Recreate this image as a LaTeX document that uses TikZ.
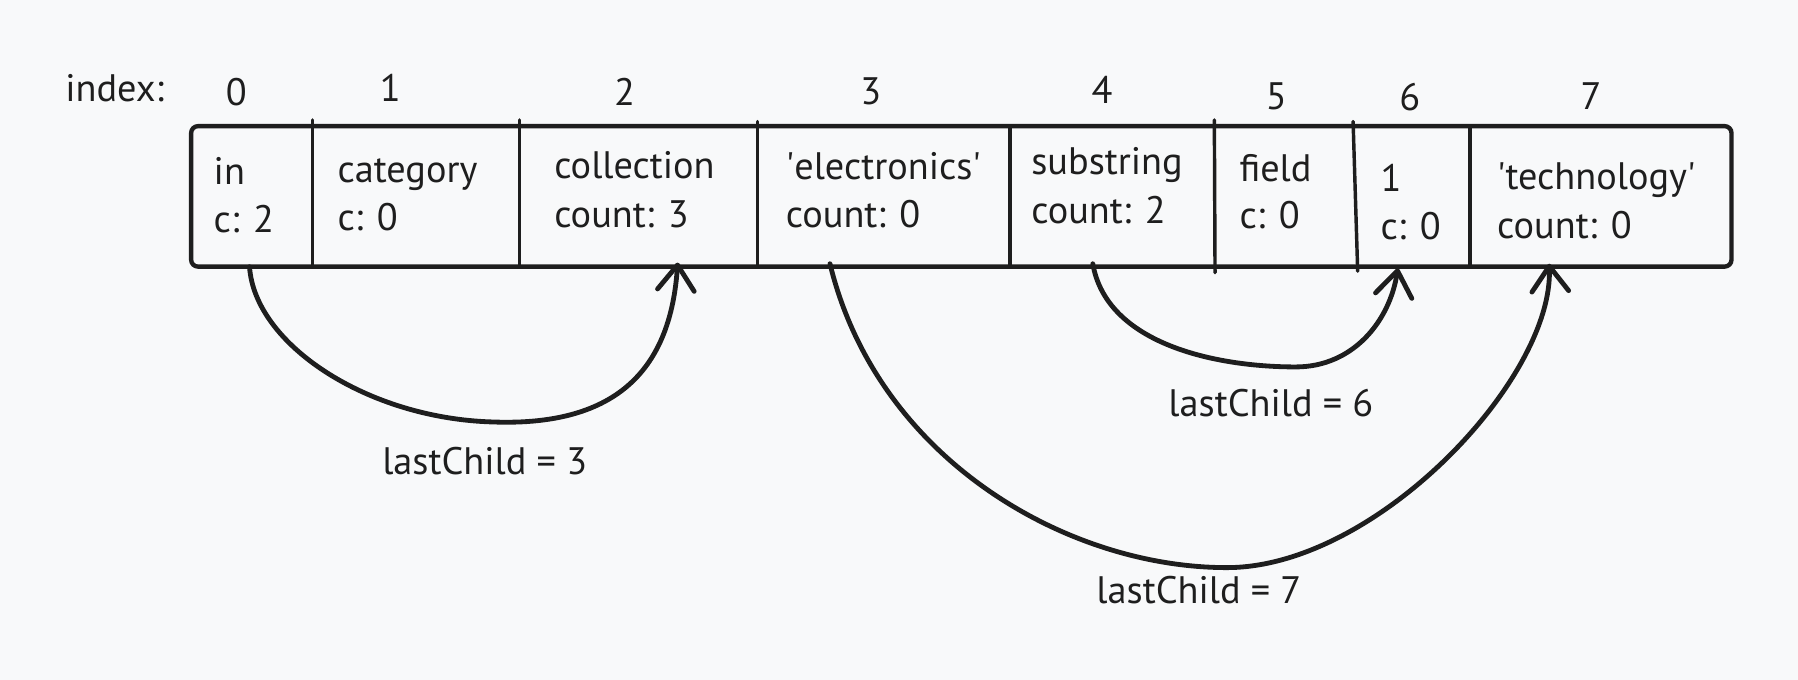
\documentclass[tikz,border=0pt]{standalone}
\usepackage{fontspec}
\setmainfont{PT Sans}
\usetikzlibrary{arrows.meta}
\definecolor{ink}{HTML}{1E1E1E}
\definecolor{bgc}{HTML}{F8F9FA}
\newcommand{\myq}{\textquotesingle}
\tikzset{
  txt/.style={inner sep=0pt, anchor=base west, text=ink, font=\fontsize{16.7}{20}\selectfont},
  idx/.style={inner sep=0pt, anchor=base, text=ink, font=\fontsize{16.7}{20}\selectfont},
  divider/.style={draw=ink, line width=1.5pt, line cap=round},
  link/.style={draw=ink, line width=2.1pt, line cap=round, line join=round,
    -{Straight Barb[length=11pt,width=16pt,round]}},
}
\begin{document}
\begin{tikzpicture}[x=0.5pt,y=-0.5pt]
\fill[bgc] (0,0) rectangle (1568,593);
\useasboundingbox (0,0) rectangle (1568,593);
% array box
\node[draw=ink, line width=1.9pt, rounded corners=3pt, minimum width=671.65pt, minimum height=61.25pt, inner sep=0pt] (box) at (838.35,171.25) {};
% dividers
\coordinate (d1t) at (272.3,104.6); \coordinate (d1b) at (272.3,232.5);
\coordinate (d2t) at (453,104.6);   \coordinate (d2b) at (453,232.5);
\coordinate (d3t) at (660.8,106);   \coordinate (d3b) at (660.8,232.5);
\coordinate (d4t) at (880.8,110);   \coordinate (d4b) at (880.8,232.5);
\coordinate (d5t) at (1059,104.6);  \coordinate (d5b) at (1059.6,237.8);
\coordinate (d6t) at (1180,106);    \coordinate (d6b) at (1184,236.5);
\coordinate (d7t) at (1281.9,110);  \coordinate (d7b) at (1281.9,232.5);
\foreach \i in {1,...,7} {\draw[divider] (d\i t) -- (d\i b);}
% index labels
\node[txt] (ilab) at (56.6,88.7) {index:};
\node[idx] (i0) at (206,91.6) {0};
\node[idx] (i1) at (340.3,88.7) {1};
\node[idx] (i2) at (544.7,91.6) {2};
\node[idx] (i3) at (759.4,91) {3};
\node[idx] (i4) at (961,90) {4};
\node[idx] (i5) at (1113,95.4) {5};
\node[idx] (i6) at (1229.4,96.8) {6};
\node[idx] (i7) at (1387.6,95.4) {7};
% cell texts
\node[txt] (c0a) at (186,161) {in};
\node[txt] (c0b) at (186,203) {c: 2};
\node[txt] (c1a) at (294,159) {category};
\node[txt] (c1b) at (294,200.6) {c: 0};
\node[txt] (c2a) at (483,156) {collection};
\node[txt] (c2b) at (483,198) {count: 3};
\node[txt] (c3a) at (685,156.5) {\myq electronics\myq};
\node[txt] (c3b) at (685,198) {count: 0};
\node[txt] (c4a) at (899,152.6) {substring};
\node[txt] (c4b) at (899,194.6) {count: 2};
\node[txt] (c5a) at (1080.6,158) {field};
\node[txt] (c5b) at (1080.6,199.7) {c: 0};
\node[txt] (c6a) at (1203.5,167) {1};
\node[txt] (c6b) at (1203.5,208.6) {c: 0};
\node[txt] (c7a) at (1305.3,165) {\myq technology\myq};
\node[txt] (c7b) at (1305.3,207.6) {count: 0};
% link endpoints
\coordinate (s0) at (217.6,232.6);
\coordinate (e2) at (591,229);
\coordinate (s3) at (723.8,230);
\coordinate (e7) at (1351,230);
\coordinate (s4) at (953,230);
\coordinate (e6) at (1219,234);
% links
\draw[link] (s0) .. controls (222,300) and (320,365) .. (430,368)
             .. controls (540,372) and (585,320) .. (e2);
\draw[link] (s3) .. controls (765,400) and (930,495) .. (1070,495)
             .. controls (1200,495) and (1355,330) .. (e7);
\draw[link] (s4) .. controls (965,300) and (1060,320) .. (1130,320)
             .. controls (1180,320) and (1212,280) .. (e6);
% link labels
\node[txt] (l3) at (333,414) {lastChild = 3};
\node[txt] (l6) at (1018.6,362.8) {lastChild = 6};
\node[txt] (l7) at (955.8,526) {lastChild = 7};
\end{tikzpicture}
\end{document}
